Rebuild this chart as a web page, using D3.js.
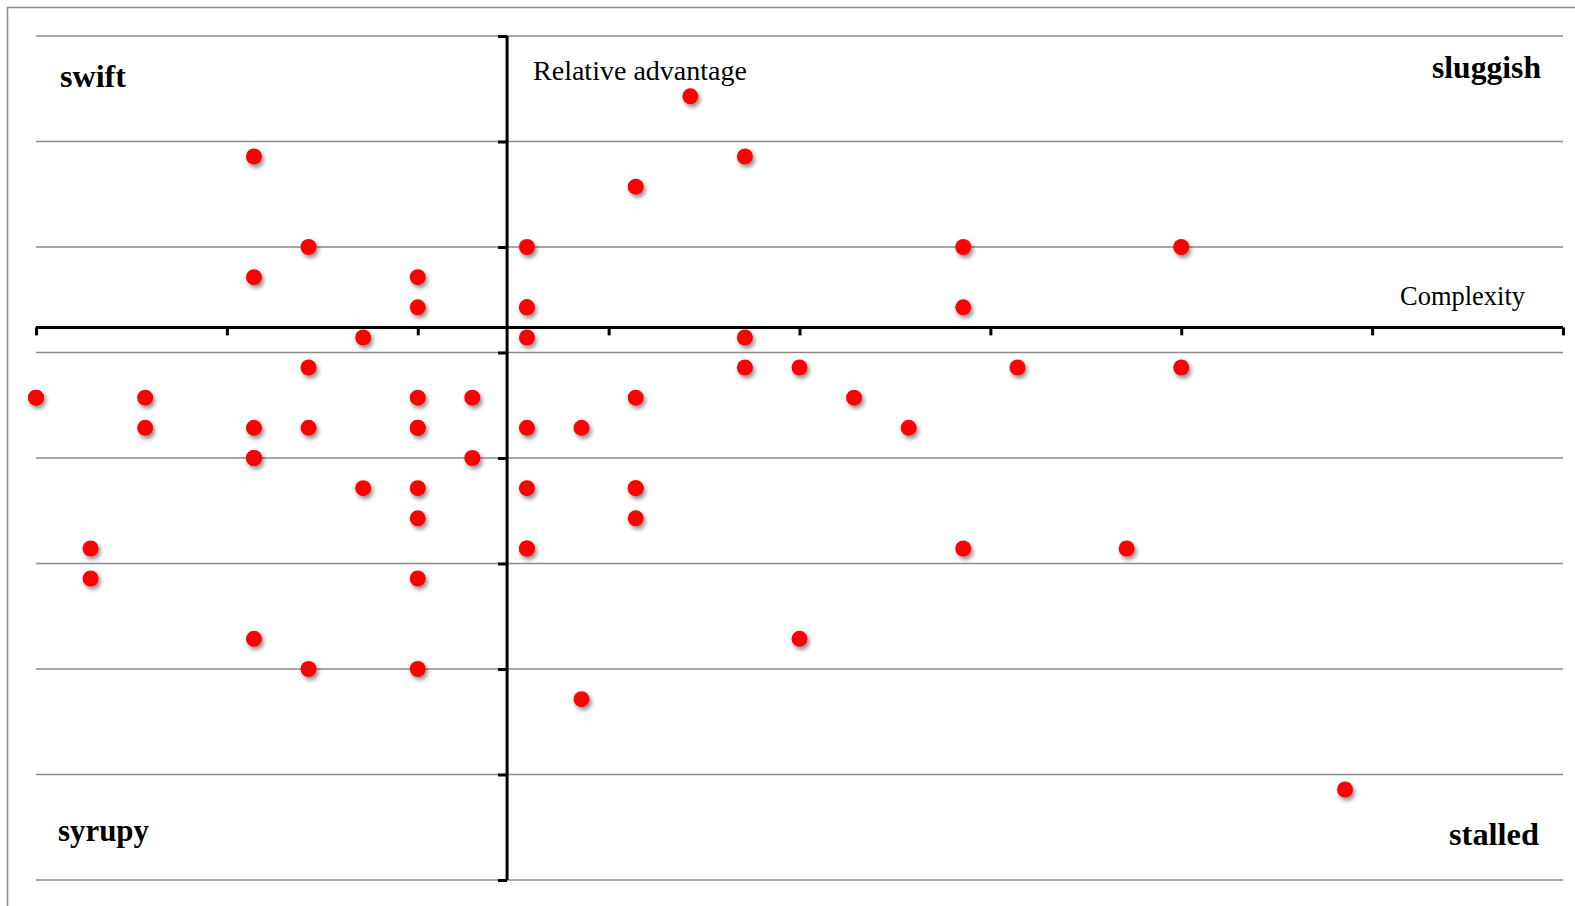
<!DOCTYPE html>
<html>
<head>
<meta charset="utf-8">
<script src="https://cdn.jsdelivr.net/npm/d3@7/dist/d3.min.js"></script>
<style>
  html, body { margin: 0; padding: 0; background: #fff; }
  svg { display: block; }
</style>
</head>
<body>
<script>
// ---- Data (mean ratings, 1–5 scale) ----
const complexity = [
  2.714, 1.571, 2.857, 2.571, 1.714, 2.286, 3.429, 4.000,
  1.571, 2.000, 2.000, 2.286, 2.286, 3.429, 1.857, 2.286, 2.857,
  1.714, 2.857, 3.000, 3.571, 4.000,
  1.000, 1.000, 1.286, 2.000, 2.143, 2.571, 3.143,
  1.286, 1.571, 1.714, 2.000, 2.000, 2.286, 2.429, 3.286,
  1.571, 1.571, 2.143,
  1.857, 2.000, 2.286, 2.571, 2.571, 2.000, 2.571,
  1.143, 2.286, 2.286, 3.429, 3.857,
  1.143, 2.000, 1.571, 3.000, 1.714, 2.000, 2.429, 4.429
];
const relativeAdvantage = [
  4.714, 4.429, 4.429, 4.286, 4.000, 4.000, 4.000, 4.000,
  3.857, 3.857, 3.714, 3.714, 3.714, 3.714, 3.571, 3.571, 3.571,
  3.429, 3.429, 3.429, 3.429, 3.429,
  3.286, 3.286, 3.286, 3.286, 3.286, 3.286, 3.286,
  3.143, 3.143, 3.143, 3.143, 3.143, 3.143, 3.143, 3.143,
  3.000, 3.000, 3.000,
  2.857, 2.857, 2.857, 2.857, 2.857, 2.714, 2.714,
  2.571, 2.571, 2.571, 2.571, 2.571,
  2.429, 2.429, 2.143, 2.143, 2.000, 2.000, 1.857, 1.429
];
const tickValues = [1, 1.5, 2, 2.5, 3, 3.5, 4, 4.5, 5];
const axisCrossX = 2.234;   // complexity value where the vertical axis sits
const axisCrossY = 3.619;   // relative advantage value where the horizontal axis sits
const quadrantLabels = ["swift", "sluggish", "syrupy", "stalled"];
const axisTitles = ["Relative advantage", "Complexity"];

// ---- Layout ----
const W = 1575, H = 906;
const mLeft = 36, mRight = 1563, mTop = 36, mBottom = 880;

const svg = d3.select("body").append("svg").attr("width", W).attr("height", H);

const defs = svg.append("defs");
const flt = defs.append("filter").attr("id", "shadow")
  .attr("x", "-50%").attr("y", "-50%").attr("width", "200%").attr("height", "200%");
flt.append("feDropShadow").attr("dx", 2).attr("dy", 3).attr("stdDeviation", 2)
  .attr("flood-color", "#000").attr("flood-opacity", 0.45);

const x = d3.scaleLinear().domain([1, 5]).range([mLeft, mRight]);
const y = d3.scaleLinear().domain([1, 5]).range([mBottom, mTop]);

// chart border (left & top)
svg.append("path").attr("d", `M7.5,${H} L7.5,7.5 L${W},7.5`)
  .attr("fill", "none").attr("stroke", "#8f8f8f").attr("stroke-width", 1.6);

// horizontal gridlines
svg.append("g").selectAll("line").data(tickValues).join("line")
  .attr("x1", mLeft).attr("x2", mRight)
  .attr("y1", d => y(d)).attr("y2", d => y(d))
  .attr("stroke", "#8a8a8a").attr("stroke-width", 1.4);

// horizontal axis (Complexity)
const xAxis = d3.axisBottom(x).tickValues(tickValues).tickSize(8).tickFormat("");
const gx = svg.append("g").attr("transform", `translate(0,${y(axisCrossY)})`).call(xAxis);
gx.select(".domain").attr("stroke", "#000").attr("stroke-width", 3)
  .attr("d", `M${mLeft},0H${mRight}`);
gx.selectAll(".tick line").attr("stroke", "#000").attr("stroke-width", 3);

// vertical axis (Relative advantage)
const yAxis = d3.axisLeft(y).tickValues(tickValues).tickSize(9).tickFormat("");
const gy = svg.append("g").attr("transform", `translate(${x(axisCrossX)},0)`).call(yAxis);
gy.select(".domain").attr("stroke", "#000").attr("stroke-width", 3)
  .attr("d", `M0,${mTop}V${mBottom}`);
gy.selectAll(".tick line").attr("stroke", "#000").attr("stroke-width", 3);

// points
const pts = complexity.map((c, i) => ({ c, r: relativeAdvantage[i] }));
svg.append("g").attr("filter", "url(#shadow)")
  .selectAll("circle").data(pts).join("circle")
  .attr("cx", d => x(d.c)).attr("cy", d => y(d.r))
  .attr("r", 8).attr("fill", "#ff0000");

// labels
function label(t, px, py, anchor, len, style) {
  const el = svg.append("text").attr("x", px).attr("y", py).attr("text-anchor", anchor).text(t);
  Object.entries(style).forEach(([k, v]) => el.style(k, v));
  if (len) el.attr("textLength", len).attr("lengthAdjust", "spacingAndGlyphs");
  return el;
}
const bold = { "font-family": "'Liberation Serif', serif", "font-weight": "bold", "font-size": "31.5px", "fill": "#000" };
label(quadrantLabels[0], 60, 87, "start", 66, bold);
label(quadrantLabels[1], 1541, 78, "end", 109, bold);
label(quadrantLabels[2], 58, 841, "start", 91, bold);
label(quadrantLabels[3], 1539, 845, "end", 90, bold);

const reg = { "font-family": "'Liberation Serif', serif", "font-size": "27px", "fill": "#000" };
label(axisTitles[0], 533, 80, "start", 214, reg);
label(axisTitles[1], 1400, 305, "start", 125, reg);
</script>
</body>
</html>
